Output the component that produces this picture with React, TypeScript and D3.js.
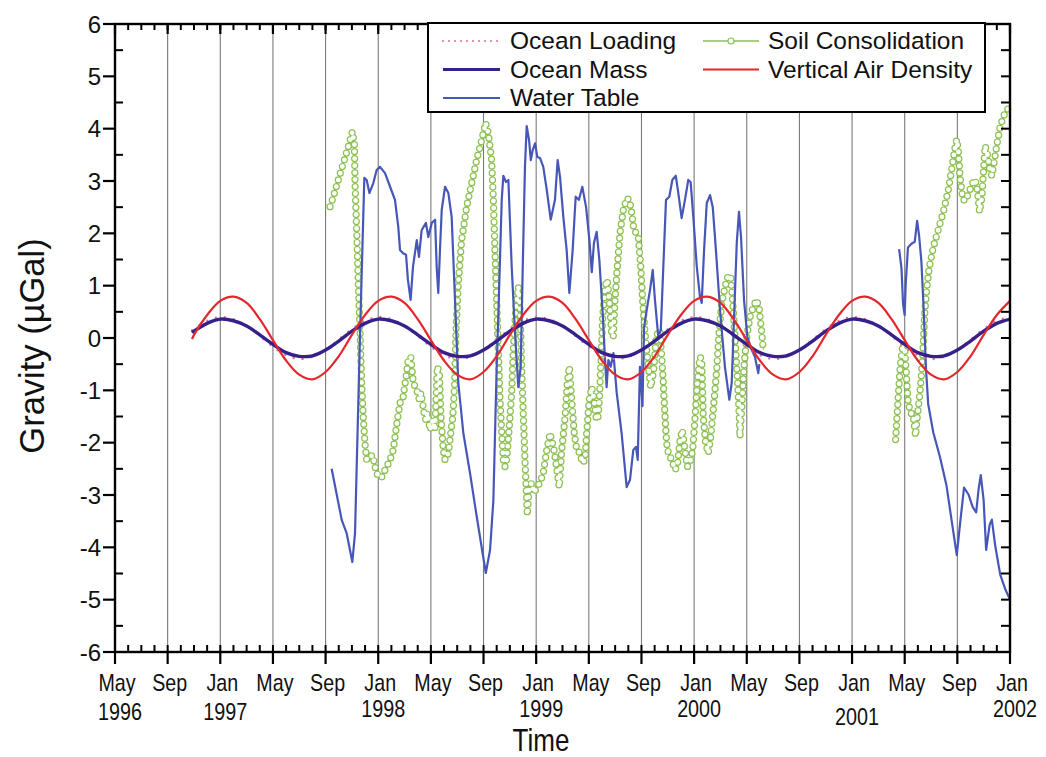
import React from "react";
import * as d3 from "d3";

// ---------- chart data ----------
// Major time ticks every four months
const majorTicks = [
  "1996-05", "1996-09", "1997-01", "1997-05", "1997-09", "1998-01", "1998-05", "1998-09",
  "1999-01", "1999-05", "1999-09", "2000-01", "2000-05", "2000-09", "2001-01", "2001-05",
  "2001-09", "2002-01",
];
const monthNames = ["Jan", "Feb", "Mar", "Apr", "May", "Jun", "Jul", "Aug", "Sep", "Oct", "Nov", "Dec"];
const yTicks = [-6, -5, -4, -3, -2, -1, 0, 1, 2, 3, 4, 5, 6];

// Dates of the seasonal model series
const seasonalDates = [
  "1996-10-27", "1996-11-01", "1996-12-01",
  "1997-01-01", "1997-02-01", "1997-03-01", "1997-04-01", "1997-05-01", "1997-06-01",
  "1997-07-01", "1997-08-01", "1997-09-01", "1997-10-01", "1997-11-01", "1997-12-01",
  "1998-01-01", "1998-02-01", "1998-03-01", "1998-04-01", "1998-05-01", "1998-06-01",
  "1998-07-01", "1998-08-01", "1998-09-01", "1998-10-01", "1998-11-01", "1998-12-01",
  "1999-01-01", "1999-02-01", "1999-03-01", "1999-04-01", "1999-05-01", "1999-06-01",
  "1999-07-01", "1999-08-01", "1999-09-01", "1999-10-01", "1999-11-01", "1999-12-01",
  "2000-01-01", "2000-02-01", "2000-03-01", "2000-04-01", "2000-05-01", "2000-06-01",
  "2000-07-01", "2000-08-01", "2000-09-01", "2000-10-01", "2000-11-01", "2000-12-01",
  "2001-01-01", "2001-02-01", "2001-03-01", "2001-04-01", "2001-05-01", "2001-06-01",
  "2001-07-01", "2001-08-01", "2001-09-01", "2001-10-01", "2001-11-01", "2001-12-01",
  "2002-01-01",
];

const oceanLoading = [
  0.15, 0.17, 0.33,
  0.40, 0.36, 0.23, 0.04, -0.17, -0.33, -0.40, -0.36, -0.23, -0.03, 0.17, 0.33,
  0.40, 0.36, 0.23, 0.04, -0.17, -0.33, -0.40, -0.36, -0.23, -0.03, 0.17, 0.33,
  0.40, 0.36, 0.23, 0.04, -0.17, -0.33, -0.40, -0.36, -0.23, -0.03, 0.17, 0.33,
  0.40, 0.36, 0.23, 0.04, -0.17, -0.33, -0.40, -0.36, -0.23, -0.03, 0.17, 0.33,
  0.40, 0.36, 0.23, 0.04, -0.17, -0.33, -0.40, -0.36, -0.23, -0.03, 0.17, 0.33,
  0.40,
];

const oceanMass = [
  0.10, 0.13, 0.28,
  0.36, 0.33, 0.23, 0.06, -0.12, -0.28, -0.35, -0.34, -0.23, -0.06, 0.13, 0.28,
  0.36, 0.33, 0.23, 0.06, -0.12, -0.28, -0.35, -0.34, -0.23, -0.06, 0.13, 0.28,
  0.36, 0.33, 0.23, 0.06, -0.12, -0.28, -0.35, -0.34, -0.23, -0.06, 0.13, 0.28,
  0.36, 0.33, 0.23, 0.06, -0.12, -0.28, -0.35, -0.34, -0.23, -0.06, 0.13, 0.28,
  0.36, 0.33, 0.23, 0.06, -0.12, -0.28, -0.35, -0.34, -0.23, -0.06, 0.13, 0.28,
  0.36,
];

const verticalAirDensity = [
  -0.02, 0.06, 0.44,
  0.71, 0.79, 0.67, 0.36, -0.04, -0.43, -0.70, -0.79, -0.65, -0.35, 0.06, 0.44,
  0.71, 0.79, 0.67, 0.36, -0.04, -0.43, -0.70, -0.79, -0.65, -0.35, 0.06, 0.44,
  0.71, 0.79, 0.67, 0.36, -0.04, -0.43, -0.70, -0.79, -0.65, -0.35, 0.06, 0.44,
  0.71, 0.79, 0.67, 0.36, -0.04, -0.43, -0.70, -0.79, -0.65, -0.35, 0.06, 0.44,
  0.71, 0.79, 0.67, 0.36, -0.04, -0.43, -0.70, -0.79, -0.65, -0.35, 0.06, 0.44,
  0.71,
];

// Water table effect [decimal year, µGal], two observation periods
const waterTableA: [number, number][] = [
  [1997.705, -2.5], [1997.769, -3.48], [1997.8, -3.73], [1997.836, -4.28], [1997.853, -3.73],
  [1997.885, 0.1], [1997.912, 3.06], [1997.927, 3.02], [1997.944, 2.77], [1997.969, 2.96],
  [1997.99, 3.21], [1998.011, 3.27], [1998.043, 3.15], [1998.075, 2.89], [1998.106, 2.64],
  [1998.127, 2.12], [1998.138, 1.68], [1998.157, 1.62], [1998.176, 1.59], [1998.188, 1.11],
  [1998.205, 0.73], [1998.22, 1.36], [1998.244, 1.87], [1998.258, 1.55], [1998.275, 2.06],
  [1998.302, 2.2], [1998.317, 1.93], [1998.339, 2.2], [1998.36, 2.26], [1998.37, 1.36],
  [1998.38, 0.86], [1998.391, 1.68], [1998.402, 2.45], [1998.423, 2.89], [1998.444, 2.77],
  [1998.465, 2.31], [1998.486, 0.73], [1998.507, -0.86], [1998.539, -1.82], [1998.581, -2.58],
  [1998.624, -3.42], [1998.681, -4.49], [1998.708, -4.05], [1998.729, -3.1], [1998.75, -0.55],
  [1998.76, 0.4], [1998.782, 2.64], [1998.792, 3.1], [1998.809, 2.98], [1998.824, 3.02],
  [1998.845, 1.36], [1998.866, 0.1], [1998.887, -0.94], [1998.902, -0.55], [1998.915, 1.36],
  [1998.929, 3.27], [1998.94, 4.05], [1998.955, 3.78], [1998.966, 3.4], [1998.978, 3.59],
  [1998.993, 3.72], [1999.007, 3.46], [1999.024, 3.44], [1999.045, 3.27], [1999.067, 2.83],
  [1999.092, 2.26], [1999.119, 2.64], [1999.136, 3.4], [1999.151, 3.08], [1999.172, 2.31],
  [1999.193, 1.68], [1999.21, 0.86], [1999.231, 1.68], [1999.25, 2.7], [1999.271, 2.64],
  [1999.292, 2.89], [1999.316, 2.5], [1999.337, 1.87], [1999.352, 1.26], [1999.366, 1.82],
  [1999.383, 2.03], [1999.4, 1.49], [1999.421, 0.48], [1999.436, -0.42], [1999.446, -0.94],
  [1999.457, -0.42], [1999.472, -0.55], [1999.489, -0.29], [1999.51, -1.05], [1999.541, -1.82],
  [1999.573, -2.85], [1999.594, -2.71], [1999.615, -2.14], [1999.632, -2.08], [1999.643, -2.33],
  [1999.657, -0.55], [1999.673, -1.3], [1999.683, 0.2], [1999.7, 0.54], [1999.721, 0.92],
  [1999.738, 1.3], [1999.752, 0.73], [1999.773, 0.02], [1999.789, 0.15], [1999.805, 1.36],
  [1999.822, 2.64], [1999.843, 2.7], [1999.862, 3.02], [1999.884, 3.1], [1999.9, 2.77],
  [1999.921, 2.29], [1999.942, 2.64], [1999.963, 3.02], [1999.978, 2.98], [1999.995, 2.31],
  [2000.017, 1.36], [2000.037, 0.79], [2000.048, 0.67], [2000.063, 1.68], [2000.08, 2.58],
  [2000.101, 2.73], [2000.118, 2.5], [2000.138, 1.68], [2000.164, 0.54], [2000.195, -0.55],
  [2000.223, -1.18], [2000.238, -0.86], [2000.253, 0.4], [2000.27, 1.82], [2000.284, 2.41],
  [2000.297, 1.93], [2000.316, 0.73], [2000.337, 0.02], [2000.365, -0.23], [2000.385, -0.36],
  [2000.406, -0.67], [2000.413, -0.5],
];

const waterTableB: [number, number][] = [
  [2001.298, 1.7], [2001.313, 1.33], [2001.323, 0.65], [2001.333, 0.44], [2001.34, 1.05],
  [2001.354, 1.73], [2001.376, 1.8], [2001.397, 1.84], [2001.412, 2.24], [2001.425, 1.94],
  [2001.439, 1.46], [2001.454, 0.51], [2001.468, -0.58], [2001.482, -1.26], [2001.514, -1.8],
  [2001.557, -2.28], [2001.598, -2.82], [2001.631, -3.5], [2001.663, -4.15], [2001.683, -3.57],
  [2001.709, -2.86], [2001.737, -2.99], [2001.764, -3.23], [2001.786, -3.33], [2001.801, -2.89],
  [2001.815, -2.62], [2001.833, -3.1], [2001.849, -4.05], [2001.871, -3.57], [2001.885, -3.47],
  [2001.907, -3.98], [2001.938, -4.52], [2001.97, -4.8], [2002.0, -5.0],
];

// Soil consolidation effect [decimal year, µGal]
const soilConsolidationA: [number, number][] = [
  [1997.695, 2.51], [1997.716, 2.7], [1997.747, 3.02], [1997.779, 3.34], [1997.811, 3.66],
  [1997.836, 3.94], [1997.849, 3.72], [1997.853, 2.96], [1997.864, 2.01], [1997.874, 1.05],
  [1997.885, 0.1], [1997.895, -0.86], [1997.905, -1.51], [1997.916, -2.01], [1997.927, -2.33],
  [1997.948, -2.27], [1997.965, -2.24], [1997.98, -2.46], [1998.0, -2.66], [1998.022, -2.66],
  [1998.043, -2.52], [1998.075, -2.33], [1998.095, -2.14], [1998.121, -1.57], [1998.138, -1.24],
  [1998.155, -1.18], [1998.176, -0.75], [1998.19, -0.42], [1998.206, -0.36], [1998.222, -0.86],
  [1998.244, -0.99], [1998.26, -1.18], [1998.271, -1.05], [1998.29, -1.43], [1998.302, -1.57],
  [1998.311, -1.43], [1998.328, -1.76], [1998.345, -1.57], [1998.359, -1.76], [1998.374, -0.55],
  [1998.387, -0.67], [1998.397, -1.51], [1998.412, -2.14], [1998.423, -2.33], [1998.444, -2.2],
  [1998.459, -1.82], [1998.472, -1.51], [1998.484, -0.86], [1998.492, 0.1], [1998.507, 1.05],
  [1998.528, 1.87], [1998.56, 2.51], [1998.592, 2.96], [1998.623, 3.4], [1998.655, 3.78],
  [1998.68, 4.11], [1998.697, 3.91], [1998.718, 3.4], [1998.729, 2.64], [1998.739, 1.68],
  [1998.75, 0.73], [1998.76, -0.23], [1998.771, -1.18], [1998.782, -1.82], [1998.792, -2.33],
  [1998.803, -2.46], [1998.813, -2.33], [1998.83, -1.69], [1998.845, -1.05], [1998.855, -0.23],
  [1998.872, 0.6], [1998.887, 0.98], [1998.898, 0.6], [1998.908, -0.55], [1998.919, -1.51],
  [1998.929, -2.33], [1998.94, -3.1], [1998.944, -3.38], [1998.955, -2.85], [1998.972, -2.77],
  [1998.988, -2.96], [1999.003, -2.85], [1999.024, -2.77], [1999.045, -2.58], [1999.067, -2.14],
  [1999.088, -1.82], [1999.113, -2.14], [1999.134, -2.58], [1999.146, -2.85], [1999.162, -2.14],
  [1999.183, -1.51], [1999.197, -0.86], [1999.21, -0.55], [1999.225, -1.18], [1999.241, -1.82],
  [1999.257, -2.14], [1999.278, -2.2], [1999.292, -2.39], [1999.309, -2.33], [1999.32, -1.82],
  [1999.336, -1.18], [1999.352, -0.94], [1999.366, -1.18], [1999.379, -1.51], [1999.39, -1.57],
  [1999.4, -1.18], [1999.409, -0.55], [1999.421, 0.4], [1999.436, 0.98], [1999.45, 1.11],
  [1999.463, 0.73], [1999.478, 0.1], [1999.488, 0.02], [1999.499, 0.73], [1999.514, 1.36],
  [1999.531, 2.01], [1999.552, 2.45], [1999.573, 2.67], [1999.59, 2.64], [1999.605, 2.39],
  [1999.619, 2.06], [1999.632, 2.01], [1999.647, 1.93], [1999.662, 1.36], [1999.674, 0.73],
  [1999.689, 0.1], [1999.71, -0.55], [1999.725, -0.94], [1999.742, -0.67], [1999.759, -0.04],
  [1999.773, 0.15], [1999.784, 0.1], [1999.795, -0.36], [1999.805, -0.86], [1999.816, -1.51],
  [1999.826, -2.01], [1999.837, -2.2], [1999.858, -2.33], [1999.879, -2.52], [1999.893, -2.46],
  [1999.911, -1.95], [1999.925, -1.76], [1999.942, -2.14], [1999.957, -2.46], [1999.974, -2.39],
  [1999.991, -2.14], [2000.006, -1.51], [2000.02, -0.86], [2000.037, -0.36], [2000.048, -0.42],
  [2000.058, -1.51], [2000.073, -2.01], [2000.09, -2.2], [2000.105, -1.89], [2000.121, -1.38],
  [2000.143, -0.61], [2000.159, 0.15], [2000.175, 0.67], [2000.196, 0.98], [2000.216, 1.2],
  [2000.232, 1.17], [2000.248, 0.54], [2000.263, -0.23], [2000.276, -0.86], [2000.286, -1.51],
  [2000.29, -1.89], [2000.301, -1.38], [2000.316, -0.55], [2000.333, 0.02], [2000.354, 0.4],
  [2000.375, 0.6], [2000.396, 0.73], [2000.413, 0.54], [2000.428, 0.1], [2000.438, -0.23],
];

const soilConsolidationB: [number, number][] = [
  [2001.276, -1.94], [2001.291, -1.19], [2001.306, -0.51], [2001.323, -0.1], [2001.333, -0.17],
  [2001.344, -0.71], [2001.354, -1.19], [2001.369, -1.43], [2001.387, -1.46], [2001.402, -1.87],
  [2001.412, -1.53], [2001.425, -1.19], [2001.439, -0.71], [2001.45, -0.17], [2001.461, 0.51],
  [2001.472, 0.92], [2001.488, 1.33], [2001.514, 1.73], [2001.546, 2.07], [2001.578, 2.41],
  [2001.609, 2.82], [2001.631, 3.23], [2001.652, 3.64], [2001.663, 3.79], [2001.673, 3.57],
  [2001.683, 3.1], [2001.701, 2.65], [2001.716, 2.62], [2001.737, 2.76], [2001.764, 2.96],
  [2001.779, 3.03], [2001.794, 2.82], [2001.807, 2.41], [2001.822, 2.69], [2001.833, 3.23],
  [2001.843, 3.67], [2001.858, 3.5], [2001.871, 3.23], [2001.885, 3.1], [2001.9, 3.37],
  [2001.918, 3.71], [2001.938, 4.05], [2001.97, 4.32], [2002.0, 4.42],
];

// ---------- styling ----------
const COLORS = {
  loading: "#d8719f",
  mass: "#38208c",
  water: "#4757b8",
  soil: "#8cc152",
  air: "#e5262c",
};
const FONT = "'Liberation Sans', Arial, Helvetica, sans-serif";

const plot = { left: 115, right: 1010, top: 24, bottom: 652 };

function decimalYear(s: string): number {
  const [y, m, d] = s.split("-").map(Number);
  return y + (m - 1) / 12 + ((d || 1) - 1) / 365;
}

export default function App() {
  const x = d3.scaleLinear().domain([1996 + 4 / 12, 2002]).range([plot.left, plot.right]);
  const y = d3.scaleLinear().domain([-6, 6]).range([plot.bottom, plot.top]);

  const smooth = d3
    .line<[number, number]>()
    .x((d) => x(d[0]))
    .y((d) => y(d[1]))
    .curve(d3.curveCatmullRom.alpha(0.5));
  const straight = d3
    .line<[number, number]>()
    .x((d) => x(d[0]))
    .y((d) => y(d[1]));

  const seasonT = seasonalDates.map(decimalYear);
  const pair = (vals: number[]) => seasonT.map((t, i) => [t, vals[i]] as [number, number]);

  const majorT = majorTicks.map(decimalYear);
  const minorT = d3.range(0, 69).map((i) => 1996 + 4 / 12 + i / 12);
  const minorY = d3.range(-6, 6.01, 0.5);

  // baseline of each year label in the second row
  const yearBaseline: Record<string, number> = {
    "1996": 720, "1997": 720, "1998": 717, "1999": 717, "2000": 717, "2001": 725, "2002": 717,
  };

  const soilPaths = [straight(soilConsolidationA) || "", straight(soilConsolidationB) || ""];

  const lx = 428, ly = 23, lw = 557, lh = 89;
  const rowY = [49, 77.5, 106];

  return (
    <svg
      width={1046}
      height={757}
      style={{ position: "absolute", left: 0, top: 0, background: "#fff" }}
      fontFamily={FONT}
    >
      <rect x={0} y={0} width={1046} height={757} fill="#fff" />

      {/* vertical grid at the major time ticks */}
      {majorT.slice(1, -1).map((t, i) => (
        <line key={"g" + i} x1={x(t)} x2={x(t)} y1={plot.top} y2={plot.bottom} stroke="#7a7a7a" strokeWidth={1.1} />
      ))}

      {/* soil consolidation: thin line with open circle markers */}
      {soilPaths.map((d, i) => (
        <g key={"s" + i} fill="none">
          <path d={d} stroke={COLORS.soil} strokeWidth={1} />
          <path d={d} stroke={COLORS.soil} strokeWidth={7.2} strokeDasharray="0 7" strokeLinecap="round" />
          <path d={d} stroke="#fff" strokeWidth={4.8} strokeDasharray="0 7" strokeLinecap="round" />
        </g>
      ))}

      {/* water table */}
      <path d={straight(waterTableA) || ""} fill="none" stroke={COLORS.water} strokeWidth={2.2} strokeLinejoin="round" />
      <path d={straight(waterTableB) || ""} fill="none" stroke={COLORS.water} strokeWidth={2.2} strokeLinejoin="round" />

      {/* ocean loading (dotted) */}
      <path
        d={smooth(pair(oceanLoading)) || ""}
        fill="none"
        stroke={COLORS.loading}
        strokeWidth={2.4}
        strokeDasharray="0 9"
        strokeLinecap="round"
      />
      {/* ocean mass */}
      <path d={smooth(pair(oceanMass)) || ""} fill="none" stroke={COLORS.mass} strokeWidth={3.4} />
      {/* vertical air density */}
      <path d={smooth(pair(verticalAirDensity)) || ""} fill="none" stroke={COLORS.air} strokeWidth={2.2} />

      {/* frame */}
      <rect
        x={plot.left}
        y={plot.top}
        width={plot.right - plot.left}
        height={plot.bottom - plot.top}
        fill="none"
        stroke="#000"
        strokeWidth={2.4}
      />

      {/* x ticks: minor (monthly) inside, major outside at bottom */}
      {minorT.map((t, i) => (
        <g key={"mx" + i} stroke="#000" strokeWidth={2}>
          <line x1={x(t)} x2={x(t)} y1={plot.bottom} y2={plot.bottom - 7} />
          <line x1={x(t)} x2={x(t)} y1={plot.top} y2={plot.top + 6} />
        </g>
      ))}
      {majorT.map((t, i) => (
        <g key={"Mx" + i} stroke="#000" strokeWidth={2.2}>
          <line x1={x(t)} x2={x(t)} y1={plot.bottom} y2={plot.bottom + 12} />
          <line x1={x(t)} x2={x(t)} y1={plot.top} y2={plot.top + 10} />
        </g>
      ))}

      {/* y ticks */}
      {yTicks.map((v) => (
        <line key={"My" + v} x1={plot.left - 12} x2={plot.left} y1={y(v)} y2={y(v)} stroke="#000" strokeWidth={2.2} />
      ))}
      {minorY.map((v, i) => (
        <g key={"my" + i} stroke="#000" strokeWidth={2}>
          {v % 1 !== 0 && <line x1={plot.left} x2={plot.left + 8} y1={y(v)} y2={y(v)} />}
          <line x1={plot.right - 9} x2={plot.right} y1={y(v)} y2={y(v)} />
        </g>
      ))}

      {/* y tick labels */}
      {yTicks.map((v) => (
        <text key={"yl" + v} x={101} y={y(v) + 8.5} textAnchor="end" fontSize={24} fill="#111">
          {v}
        </text>
      ))}

      {/* x tick labels: month and year rows */}
      {majorTicks.map((s, i) => {
        const [yr, mo] = s.split("-");
        const px = x(majorT[i]);
        const showYear = mo === "01" || i === 0;
        return (
          <g key={"xl" + i} fill="#111">
            <text transform={`translate(${px + 2},691) scale(0.82,1)`} textAnchor="middle" fontSize={24}>
              {monthNames[Number(mo) - 1]}
            </text>
            {showYear && (
              <text
                transform={`translate(${px + 5},${yearBaseline[yr]}) scale(0.86,1)`}
                textAnchor="middle"
                fontSize={23}
              >
                {yr}
              </text>
            )}
          </g>
        );
      })}

      {/* axis titles */}
      <text transform="translate(541,750.5) scale(0.84,1)" textAnchor="middle" fontSize={31} fill="#111">
        Time
      </text>
      <text transform="translate(44,346) rotate(-90)" textAnchor="middle" fontSize={34.5} fill="#111">
        Gravity (µGal)
      </text>

      {/* legend */}
      <g>
        <rect x={lx} y={ly} width={lw} height={lh} fill="#fff" stroke="#000" strokeWidth={2} />
        <line x1={443} x2={500} y1={rowY[0] - 8} y2={rowY[0] - 8} stroke={COLORS.loading} strokeWidth={2} strokeDasharray="0 6" strokeLinecap="round" />
        <line x1={443} x2={500} y1={rowY[1] - 8} y2={rowY[1] - 8} stroke={COLORS.mass} strokeWidth={3} />
        <line x1={443} x2={500} y1={rowY[2] - 8} y2={rowY[2] - 8} stroke={COLORS.water} strokeWidth={2.2} />
        <line x1={703} x2={759} y1={rowY[0] - 8} y2={rowY[0] - 8} stroke={COLORS.soil} strokeWidth={1.5} />
        <circle cx={731} cy={rowY[0] - 8} r={3} fill="#fff" stroke={COLORS.soil} strokeWidth={1.2} />
        <line x1={703} x2={759} y1={rowY[1] - 8} y2={rowY[1] - 8} stroke={COLORS.air} strokeWidth={2.2} />
        <g fontSize={24.5} fill="#111">
          <text x={510} y={rowY[0]}>Ocean Loading</text>
          <text x={510} y={rowY[1]}>Ocean Mass</text>
          <text x={510} y={rowY[2]}>Water Table</text>
          <text x={768} y={rowY[0]}>Soil Consolidation</text>
          <text x={768} y={rowY[1]}>Vertical Air Density</text>
        </g>
      </g>
    </svg>
  );
}
